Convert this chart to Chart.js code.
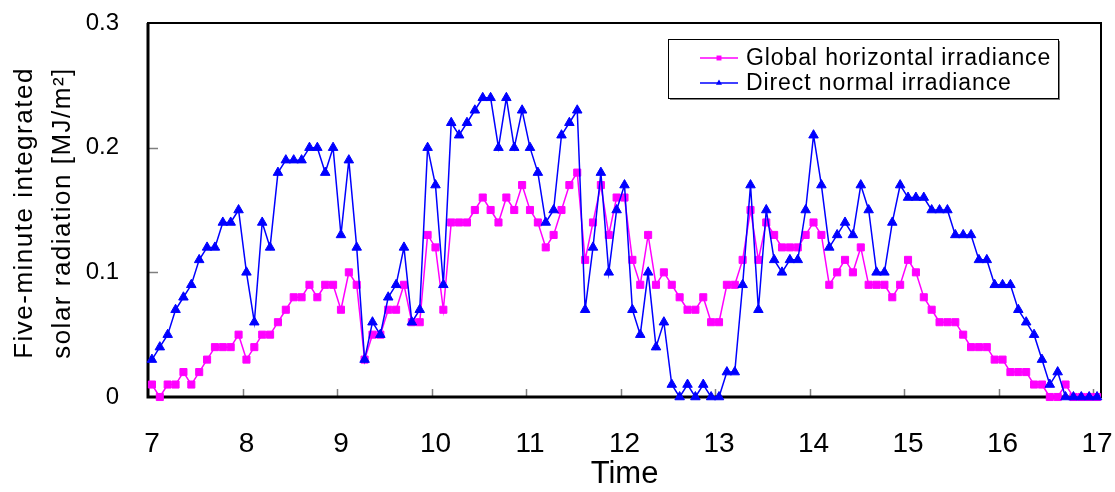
<!DOCTYPE html>
<html>
<head>
<meta charset="utf-8">
<title>Five-minute integrated solar radiation</title>
<script src="https://cdn.jsdelivr.net/npm/chart.js@4.4.1/dist/chart.umd.min.js"></script>
<style>
  body { margin: 0; background: #fff; }
  #wrap { width: 1115px; height: 492px; position: relative; }
</style>
</head>
<body>
<div id="wrap"><canvas id="radiationChart"></canvas></div>
<script>
// 5-minute values, 7:00 to 17:00 (121 readings)
const hourLabels = ['7', '8', '9', '10', '11', '12', '13', '14', '15', '16', '17'];

const globalHorizontal = [
    0.01, 0.00, 0.01, 0.01, 0.02, 0.01, 0.02, 0.03, 0.04, 0.04, 0.04, 0.05,
    0.03, 0.04, 0.05, 0.05, 0.06, 0.07, 0.08, 0.08, 0.09, 0.08, 0.09, 0.09,
    0.07, 0.10, 0.09, 0.03, 0.05, 0.05, 0.07, 0.07, 0.09, 0.06, 0.06, 0.13,
    0.12, 0.07, 0.14, 0.14, 0.14, 0.15, 0.16, 0.15, 0.14, 0.16, 0.15, 0.17,
    0.15, 0.14, 0.12, 0.13, 0.15, 0.17, 0.18, 0.11, 0.14, 0.17, 0.13, 0.16,
    0.16, 0.11, 0.09, 0.13, 0.09, 0.10, 0.09, 0.08, 0.07, 0.07, 0.08, 0.06,
    0.06, 0.09, 0.09, 0.11, 0.15, 0.11, 0.14, 0.13, 0.12, 0.12, 0.12, 0.13,
    0.14, 0.13, 0.09, 0.10, 0.11, 0.10, 0.12, 0.09, 0.09, 0.09, 0.08, 0.09,
    0.11, 0.10, 0.08, 0.07, 0.06, 0.06, 0.06, 0.05, 0.04, 0.04, 0.04, 0.03,
    0.03, 0.02, 0.02, 0.02, 0.01, 0.01, 0.00, 0.00, 0.01, 0.00, 0.00, 0.00,
    0.00
];

const directNormal = [
    0.03, 0.04, 0.05, 0.07, 0.08, 0.09, 0.11, 0.12, 0.12, 0.14, 0.14, 0.15,
    0.10, 0.06, 0.14, 0.12, 0.18, 0.19, 0.19, 0.19, 0.20, 0.20, 0.18, 0.20,
    0.13, 0.19, 0.12, 0.03, 0.06, 0.05, 0.08, 0.09, 0.12, 0.06, 0.07, 0.20,
    0.17, 0.09, 0.22, 0.21, 0.22, 0.23, 0.24, 0.24, 0.20, 0.24, 0.20, 0.23,
    0.20, 0.18, 0.14, 0.15, 0.21, 0.22, 0.23, 0.07, 0.12, 0.18, 0.10, 0.15,
    0.17, 0.07, 0.05, 0.10, 0.04, 0.06, 0.01, 0.00, 0.01, 0.00, 0.01, 0.00,
    0.00, 0.02, 0.02, 0.09, 0.17, 0.07, 0.15, 0.11, 0.10, 0.11, 0.11, 0.15,
    0.21, 0.17, 0.12, 0.13, 0.14, 0.13, 0.17, 0.15, 0.10, 0.10, 0.14, 0.17,
    0.16, 0.16, 0.16, 0.15, 0.15, 0.15, 0.13, 0.13, 0.13, 0.11, 0.11, 0.09,
    0.09, 0.09, 0.07, 0.06, 0.05, 0.03, 0.01, 0.02, 0.00, 0.00, 0.00, 0.00,
    0.00
];

const yTicks = [0, 0.1, 0.2, 0.3];
const yTitleLines = ['Five-minute integrated', 'solar radiation [MJ/m\u00B2]'];

// one category per 5-minute reading
const timeLabels = [];
hourLabels.forEach((h, k) => {
    const steps = k < hourLabels.length - 1 ? 12 : 1;
    for (let m = 0; m < steps; m++) {
        timeLabels.push(h + ':' + String(m * 5).padStart(2, '0'));
    }
});

const FONT = '"Liberation Sans", Arial, Helvetica, sans-serif';

// box round the plot plus short inward tick marks
const frameTicks = {
    id: 'frameTicks',
    beforeDatasetsDraw(chart) {
        const { ctx, chartArea: a, scales: { x, y } } = chart;
        ctx.save();
        ctx.strokeStyle = '#7f7f7f';
        ctx.lineWidth = 1.5;
        const half = (x.getPixelForValue(1) - x.getPixelForValue(0)) / 2;
        for (let i = 12; i < timeLabels.length; i += 12) {
            const px = Math.round(x.getPixelForValue(i) - half) + 0.5;
            ctx.beginPath();
            ctx.moveTo(px, a.bottom);
            ctx.lineTo(px, a.bottom - 8);
            ctx.stroke();
        }
        yTicks.slice(1, -1).forEach(v => {
            const py = Math.round(y.getPixelForValue(v)) + 0.5;
            ctx.beginPath();
            ctx.moveTo(a.left, py);
            ctx.lineTo(a.left + 10, py);
            ctx.stroke();
        });
        ctx.strokeStyle = '#000';
        ctx.lineWidth = 2;
        ctx.strokeRect(a.left, a.top, a.right - a.left, a.bottom - a.top);
        ctx.lineWidth = 3;
        ctx.beginPath();
        ctx.moveTo(a.left, a.top);
        ctx.lineTo(a.left, a.bottom);
        ctx.lineTo(a.right, a.bottom);
        ctx.stroke();
        ctx.restore();
    }
};

// two-line rotated y title, letters spaced a little like the original
const yTitle = {
    id: 'yTitle',
    afterDraw(chart) {
        const { ctx, chartArea: a } = chart;
        ctx.save();
        ctx.translate(0, (a.top + a.bottom) / 2 + 3);
        ctx.rotate(-Math.PI / 2);
        ctx.font = '26px ' + FONT;
        ctx.letterSpacing = '1.5px';
        ctx.fillStyle = '#000';
        ctx.textAlign = 'center';
        ctx.textBaseline = 'alphabetic';
        ctx.fillText(yTitleLines[0], 0, 32);
        ctx.fillText(yTitleLines[1], 0, 70);
        ctx.restore();
    }
};

// boxed legend in the upper right of the plot
const boxLegend = {
    id: 'boxLegend',
    afterDraw(chart) {
        const ctx = chart.ctx;
        const bx = 668, by = 39, bw = 390, bh = 59;
        ctx.save();
        ctx.fillStyle = '#808080';
        ctx.fillRect(bx + 2, by + 2, bw, bh);
        ctx.fillStyle = '#fff';
        ctx.fillRect(bx, by, bw, bh);
        ctx.strokeStyle = '#000';
        ctx.lineWidth = 1;
        ctx.strokeRect(bx + 0.5, by + 0.5, bw, bh);
        [0, 1].forEach((di, row) => {
            const ds = chart.data.datasets[di];
            const ly = 58 + row * 25;
            ctx.strokeStyle = ds.borderColor;
            ctx.lineWidth = 1.5;
            ctx.beginPath();
            ctx.moveTo(700, ly);
            ctx.lineTo(738, ly);
            ctx.stroke();
            ctx.fillStyle = ds.pointBackgroundColor;
            Chart.helpers.drawPoint(ctx, {
                pointStyle: ds.pointStyle, radius: 3.5, rotation: 0, borderWidth: 0
            }, 719, ly);
            ctx.fillStyle = '#000';
            ctx.font = '23px ' + FONT;
            ctx.letterSpacing = '0.9px';
            ctx.textBaseline = 'middle';
            ctx.textAlign = 'left';
            ctx.fillText(ds.label, 746, ly + 1);
        });
        ctx.restore();
    }
};

new Chart(document.getElementById('radiationChart'), {
    type: 'line',
    data: {
        labels: timeLabels,
        datasets: [{
            label: 'Global horizontal irradiance',
            data: globalHorizontal,
            borderColor: '#FF00FF',
            borderWidth: 1.5,
            pointStyle: 'rect',
            pointRadius: 5,
            pointBackgroundColor: '#FF00FF',
            pointBorderColor: '#FF00FF',
            pointBorderWidth: 1,
            tension: 0,
            clip: false,
            order: 1
        }, {
            label: 'Direct normal irradiance',
            data: directNormal,
            borderColor: '#0000FF',
            borderWidth: 1.5,
            pointStyle: 'triangle',
            pointRadius: 5.5,
            pointBackgroundColor: '#0000FF',
            pointBorderColor: '#0000FF',
            pointBorderWidth: 1,
            tension: 0,
            clip: false,
            order: 0
        }]
    },
    options: {
        responsive: true,
        maintainAspectRatio: false,
        animation: false,
        events: [],
        layout: { padding: { top: 23, right: 14, left: 0, bottom: 0 } },
        plugins: {
            legend: { display: false },
            tooltip: { enabled: false }
        },
        scales: {
            x: {
                type: 'category',
                offset: true,
                grid: { display: false, offset: true },
                border: { display: false },
                ticks: {
                    autoSkip: false,
                    maxRotation: 0,
                    padding: 22,
                    color: '#000',
                    font: { family: FONT, size: 28 },
                    callback: (v, i) => i % 12 === 0 ? hourLabels[i / 12] : null
                },
                title: {
                    display: true,
                    text: 'Time',
                    color: '#000',
                    font: { family: FONT, size: 31, lineHeight: 1.1 },
                    padding: { top: 0, bottom: 0 }
                },
                afterFit: s => {
                    s.height = 95;
                    s.paddingLeft = 0;
                    s.paddingRight = 0;
                }
            },
            y: {
                min: 0,
                max: 0.3,
                grid: { display: false },
                border: { display: false },
                ticks: {
                    stepSize: 0.1,
                    padding: 21,
                    color: '#000',
                    font: { family: FONT, size: 24 },
                    callback: v => v === 0 ? '0' : v.toFixed(1)
                },
                afterFit: s => {
                    s.width = 148;
                    s.paddingTop = 0;
                    s.paddingBottom = 0;
                }
            }
        }
    },
    plugins: [frameTicks, yTitle, boxLegend]
});
</script>
</body>
</html>
